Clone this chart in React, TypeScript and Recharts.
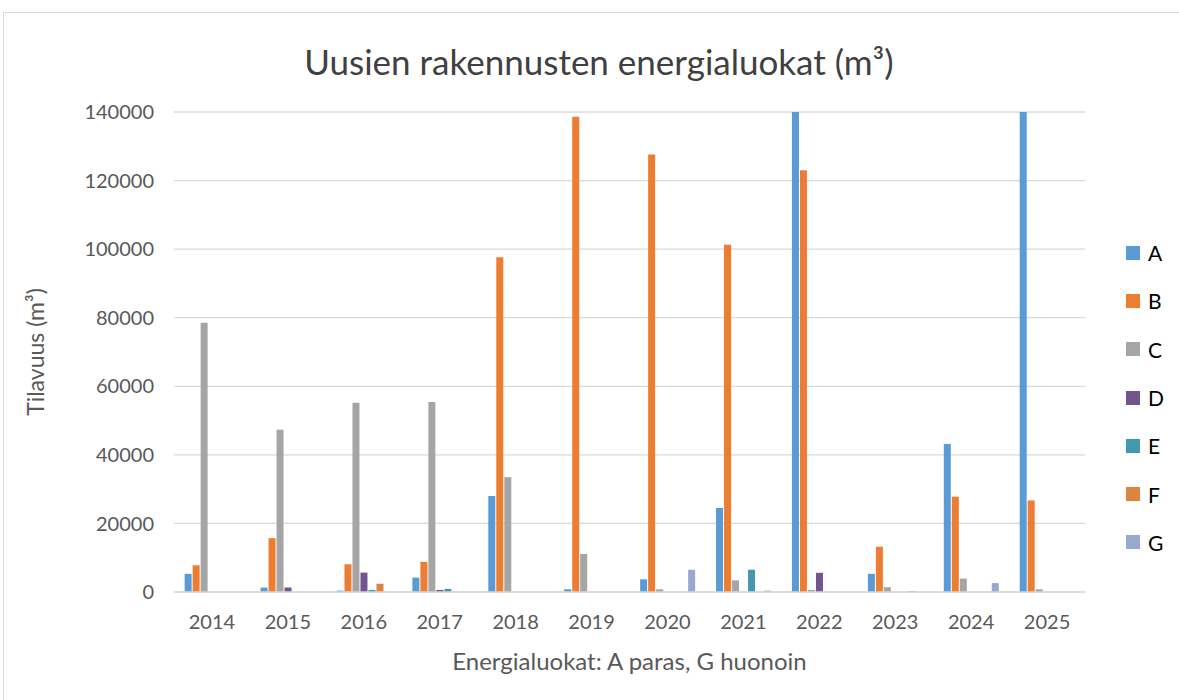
import { BarChart, Bar, XAxis, YAxis, CartesianGrid } from 'recharts';

const YEARS = ['2014', '2015', '2016', '2017', '2018', '2019', '2020', '2021', '2022', '2023', '2024', '2025'];

const CLASS_A = [5300, 1300, 400, 4200, 28000, 800, 3700, 24500, 165000, 5300, 43200, 190000];
const CLASS_B = [7800, 15700, 8100, 8800, 97600, 138600, 127600, 101300, 123000, 13200, 27800, 26700];
const CLASS_C = [78500, 47300, 55200, 55400, 33500, 11100, 800, 3400, 600, 1400, 3900, 800];
const CLASS_D = [0, 1300, 5650, 600, 0, 0, 0, 0, 5600, 0, 0, 0];
const CLASS_E = [0, 0, 600, 900, 0, 0, 0, 6500, 0, 0, 0, 0];
const CLASS_F = [0, 0, 2400, 0, 0, 0, 0, 0, 0, 300, 0, 0];
const CLASS_G = [0, 0, 0, 0, 0, 0, 6500, 400, 0, 0, 2600, 0];

const Y_TICKS = [0, 20000, 40000, 60000, 80000, 100000, 120000, 140000];

const SERIES = [
  { key: 'A', values: CLASS_A, color: '#5b9bd5' },
  { key: 'B', values: CLASS_B, color: '#ed7d31' },
  { key: 'C', values: CLASS_C, color: '#a5a5a5' },
  { key: 'D', values: CLASS_D, color: '#71558f' },
  { key: 'E', values: CLASS_E, color: '#4298ae' },
  { key: 'F', values: CLASS_F, color: '#dd843f' },
  { key: 'G', values: CLASS_G, color: '#97a9d1' },
];

const data = YEARS.map((year, i) => {
  const row: Record<string, string | number> = { year };
  SERIES.forEach((s) => {
    row[s.key] = s.values[i];
  });
  return row;
});

const FONT = 'Lato, "Open Sans", sans-serif';
const TEXT = '#595959';

const YLabel = ({ viewBox }: { viewBox?: { x: number; y: number; width: number; height: number } }) => {
  if (!viewBox) return null;
  const cx = 35;
  const cy = viewBox.y + viewBox.height / 2;
  return (
    <text
      x={cx}
      y={cy}
      transform={`rotate(-90 ${cx} ${cy})`}
      textAnchor="middle"
      dominantBaseline="central"
      fill={TEXT}
      fontSize={23}
      fontFamily={FONT}
    >
      Tilavuus (m³)
    </text>
  );
};

export default function App() {
  return (
    <div style={{ position: 'absolute', left: 0, top: 0, width: 1179, height: 700, background: '#fff', overflow: 'hidden', fontFamily: FONT }}>
      <div style={{ position: 'absolute', left: 3, top: 12, width: 1190, height: 700, border: '1px solid #d9d9d9' }} />
      <div style={{ position: 'absolute', left: 0, top: 38, width: 1198, textAlign: 'center', fontSize: 35, color: '#404040', lineHeight: '46px' }}>
        Uusien rakennusten energialuokat (m³)
      </div>
      <div style={{ position: 'absolute', left: 0, top: 0 }}>
        <BarChart
          width={1179}
          height={700}
          data={data}
          margin={{ top: 112, right: 94, bottom: 18, left: 70 }}
          barCategoryGap="14%"
          barGap={1}
        >
          <CartesianGrid vertical={false} stroke="#d9d9d9" strokeWidth={1.3} />
          <XAxis
            dataKey="year"
            height={90}
            axisLine={{ stroke: '#d9d9d9', strokeWidth: 1.3 }}
            tickLine={false}
            tickMargin={17}
            tick={{ fill: TEXT, fontSize: 20, fontFamily: FONT }}
            label={{ value: 'Energialuokat: A paras, G huonoin', position: 'insideBottom', offset: 12, fill: TEXT, fontSize: 24, fontFamily: FONT }}
          />
          <YAxis
            width={104}
            domain={[0, 140000]}
            ticks={Y_TICKS}
            allowDataOverflow
            axisLine={false}
            tickLine={false}
            tickMargin={14}
            tick={{ fill: TEXT, fontSize: 20, fontFamily: FONT }}
            label={<YLabel />}
          />
          {SERIES.map((s) => (
            <Bar key={s.key} dataKey={s.key} fill={s.color} isAnimationActive={false} />
          ))}
        </BarChart>
      </div>
      <div style={{ position: 'absolute', left: 1126, top: 228.5 }}>
        {SERIES.map((s) => (
          <div key={s.key} style={{ display: 'flex', alignItems: 'center', height: 48.3, color: '#000', fontSize: 21 }}>
            <span style={{ display: 'inline-block', width: 14, height: 14, background: s.color, marginRight: 8 }} />
            {s.key}
          </div>
        ))}
      </div>
    </div>
  );
}
